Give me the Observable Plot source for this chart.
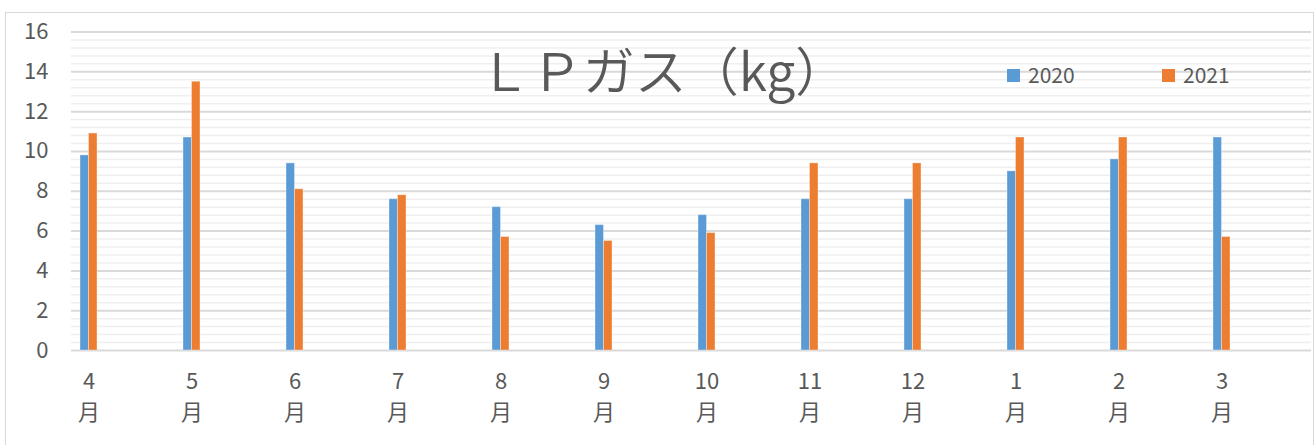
<!DOCTYPE html>
<html><head><meta charset="utf-8">
<script src="https://cdn.jsdelivr.net/npm/d3@7"></script>
<script src="https://cdn.jsdelivr.net/npm/@observablehq/plot@0.6"></script>
<style>
body{margin:0;background:#fff;font-family:"Noto Sans CJK JP",sans-serif;color:#595959;}
#wrap{position:relative;width:1314px;height:445px;overflow:hidden;}
#border{position:absolute;left:5px;top:12px;width:1309px;height:440px;border:1.5px solid #d9d9d9;box-sizing:border-box;}
#chart{position:absolute;left:0;top:0;}
#title{position:absolute;left:663px;top:33px;transform:translateX(-50%);font-size:52px;line-height:72px;white-space:nowrap;color:#595959;font-weight:350;}
.leg{position:absolute;top:61px;font-size:21px;line-height:26px;color:#595959;white-space:nowrap;}
.sw{display:inline-block;width:13px;height:13px;margin-right:8px;vertical-align:1px;}
</style>
</head><body>
<div id="wrap">
  <div id="border"></div>
  <div id="chart"></div>
  <div id="title"></div>
  <div id="legend"></div>
</div>
<script>
const months = ["4","5","6","7","8","9","10","11","12","1","2","3"];
const values2020 = [9.8,10.7,9.4,7.6,7.2,6.3,6.8,7.6,7.6,9.0,9.6,10.7];
const values2021 = [10.9,13.5,8.1,7.8,5.7,5.5,5.9,9.4,9.4,10.7,10.7,5.7];
const seriesNames = ["2020","2021"];
const seriesColors = ["#5b9bd5","#ed7d31"];
const yTicks = [0,2,4,6,8,10,12,14,16];
const titleText = "ＬＰガス（kg）";

const rows2020 = months.map((m,i)=>({month:m, value:values2020[i]}));
const rows2021 = months.map((m,i)=>({month:m, value:values2021[i]}));
const yMinor = d3.range(0, 16.001, 0.4).filter(v => Math.abs(v/2 - Math.round(v/2)) > 1e-6);

const chart = Plot.plot({
  width: 1314,
  height: 445,
  marginLeft: 71,
  marginRight: 3,
  marginTop: 31.5,
  marginBottom: 95,
  style: {fontFamily: "'Noto Sans CJK JP', sans-serif", background: "transparent", color: "#595959", overflow: "visible"},
  x: {domain: months, paddingInner: 0.836, paddingOuter: 0.4065, align: 0.099},
  y: {domain: [0,16]},
  marks: [
    Plot.ruleY(yMinor, {stroke: "#efefef", strokeWidth: 1.5}),
    Plot.ruleY(yTicks, {stroke: "#d9d9d9", strokeWidth: 2}),
    Plot.barY(rows2020, {x: "month", y: "value", fill: seriesColors[0], insetRight: 8.5, stroke: "#fff", strokeOpacity: 0.35, strokeWidth: 1}),
    Plot.barY(rows2021, {x: "month", y: "value", fill: seriesColors[1], insetLeft: 8.5, stroke: "#fff", strokeOpacity: 0.35, strokeWidth: 1}),
    Plot.axisY({ticks: yTicks, tickSize: 0, tickPadding: 23, fontSize: 22, fill: "#595959", label: null}),
    Plot.axisX({tickSize: 0, tickPadding: 16, fontSize: 22, fill: "#595959", lineHeight: 1.42, tickFormat: d => d + "\n月", label: null})
  ]
});
document.getElementById("chart").appendChild(chart);
document.getElementById("title").textContent = titleText;

const legendLefts = [1007, 1162];
const legend = document.getElementById("legend");
seriesNames.forEach((n,i)=>{
  const d = document.createElement("div");
  d.className = "leg";
  d.style.left = legendLefts[i] + "px";
  d.innerHTML = `<span class="sw" style="background:${seriesColors[i]}"></span>${n}`;
  legend.appendChild(d);
});
</script>
</body></html>
